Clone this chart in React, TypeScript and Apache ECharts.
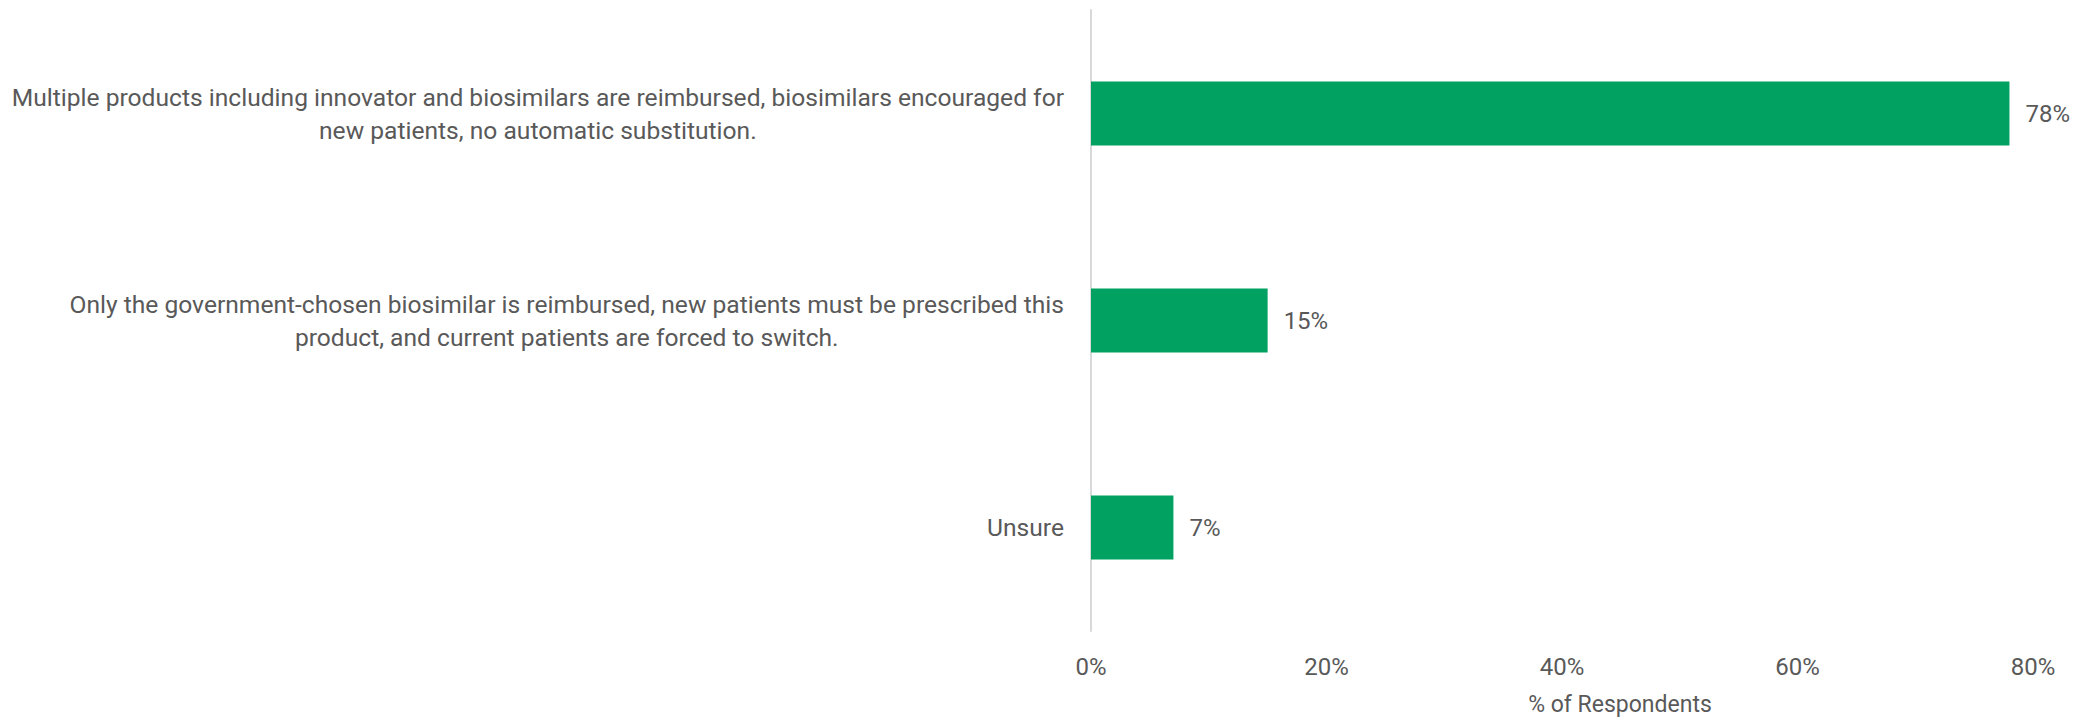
import React, { useEffect, useRef } from "react";
import * as echarts from "echarts";

const categories: string[] = [
  "Multiple products including innovator and biosimilars are reimbursed, biosimilars encouraged for\nnew patients, no automatic substitution.",
  "Only the government-chosen biosimilar is reimbursed, new patients must be prescribed this\nproduct, and current patients are forced to switch.",
  "Unsure",
];
const values: number[] = [78, 15, 7];
const xTicks = { min: 0, max: 80, interval: 20 };
const xTitle = "% of Respondents";

const FONT = "Roboto, 'Open Sans', sans-serif";
const TXT = "#595959";

export default function App() {
  const ref = useRef<HTMLDivElement>(null);
  useEffect(() => {
    if (!ref.current) return;
    const chart = echarts.init(ref.current, null, { renderer: "svg" });
    chart.setOption({
      animation: false,
      backgroundColor: "#ffffff",
      grid: {
        left: 1091,
        right: 2078 - 2033,
        top: 10,
        bottom: 721 - 631,
        containLabel: false,
        outerBoundsMode: "none",
      },
      xAxis: {
        type: "value",
        min: xTicks.min,
        max: xTicks.max,
        interval: xTicks.interval,
        axisLine: { show: false },
        axisTick: { show: false },
        splitLine: { show: false },
        axisLabel: {
          formatter: (v: number) => v + "%",
          color: TXT,
          fontFamily: FONT,
          fontSize: 24,
          margin: 24,
        },
        name: xTitle,
        nameLocation: "middle",
        nameGap: 62,
        nameTextStyle: { color: TXT, fontFamily: FONT, fontSize: 23, padding: [0, 0, 0, 116] },
      },
      yAxis: {
        type: "category",
        data: categories,
        inverse: true,
        axisLine: { show: true, lineStyle: { color: "#D9D9D9", width: 2 } },
        axisTick: { show: false },
        axisLabel: {
          margin: 27,
          formatter: (v: string) => v.split("\n").map((l) => `{c|${l}}`).join("\n"),
          rich: {
            c: { align: "center", color: TXT, fontFamily: FONT, fontSize: 24.6, lineHeight: 33 },
          },
        },
      },
      series: [
        {
          type: "bar",
          data: values,
          barWidth: "31%",
          itemStyle: { color: "#00A161" },
          label: {
            show: true,
            position: "right",
            distance: 16,
            formatter: (p: any) => p.value + "%",
            color: TXT,
            fontFamily: FONT,
            fontSize: 24,
          },
        },
      ],
    });
    return () => chart.dispose();
  }, []);
  return (
    <div
      ref={ref}
      style={{ position: "fixed", left: 0, top: 0, width: 2078, height: 721, background: "#fff" }}
    />
  );
}
